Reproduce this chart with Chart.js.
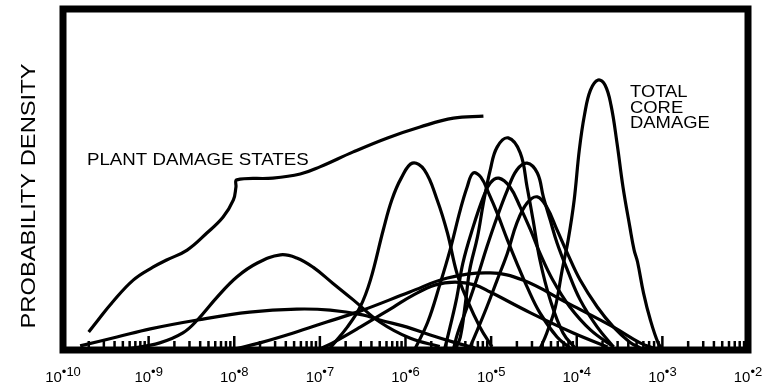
<!DOCTYPE html>
<html>
<head>
<meta charset="utf-8">
<script src="https://cdn.jsdelivr.net/npm/chart.js@4.4.1/dist/chart.umd.min.js"></script>
<style>
  html, body { margin: 0; padding: 0; background: #fff; }
  #wrap { width: 764px; height: 385px; position: relative; }
</style>
</head>
<body>
<div id="wrap"><canvas id="pdf"></canvas></div>
<script>
// x values are log10 of the frequency, y is relative probability density (0-100)
const decades = [-10, -9, -8, -7, -6, -5, -4, -3, -2];
const minorMantissas = [2, 3, 4, 5, 6, 7, 8, 9];

// "plant damage states" envelope line
const envelopeX = [-9.70, -9.59, -9.43, -9.18, -8.95, -8.79, -8.55, -8.32, -8.13, -8.01, -7.98, -7.97, -7.55, -7.23, -7.00, -6.61, -6.21, -5.83, -5.44, -5.09];
const envelopeY = [5.3, 8.8, 13.8, 20.5, 24.3, 26.4, 29.3, 34.3, 39.0, 44.0, 47.8, 49.9, 50.4, 51.6, 53.7, 58.1, 62.2, 65.4, 68.0, 68.6];

// individual damage state distributions
const stateAX = [-9.25, -8.87, -8.60, -8.43, -8.20, -7.97, -7.73, -7.46, -7.27, -7.08, -6.85, -6.61, -6.30, -5.95, -5.60];
const stateAY = [0.3, 2.1, 5.0, 8.8, 15.5, 21.4, 25.5, 27.9, 27.0, 24.3, 19.6, 14.7, 8.2, 3.5, 1.0];

const stateBX = [-9.80, -9.37, -8.98, -8.43, -7.82, -7.27, -6.88, -6.50, -6.30, -5.98, -5.71, -5.44, -5.19];
const stateBY = [1.2, 3.8, 6.2, 8.8, 11.1, 12.0, 11.7, 10.3, 8.8, 6.7, 4.4, 2.3, 0.6];

const stateCX = [-6.88, -6.68, -6.53, -6.41, -6.26, -6.16, -6.05, -5.92, -5.78, -5.63, -5.51, -5.40, -5.28, -5.13, -4.99];
const stateCY = [0.6, 6.7, 12.6, 20.5, 35.2, 44.0, 50.4, 54.8, 52.8, 44.0, 34.3, 22.6, 14.7, 6.7, 0.9];

const stateDX = [-5.89, -5.74, -5.60, -5.48, -5.36, -5.28, -5.21, -5.12, -5.02, -4.93, -4.81, -4.70, -4.58, -4.43, -4.23, -4.08];
const stateDY = [0.3, 8.2, 19.1, 29.3, 41.1, 47.8, 51.9, 50.7, 45.5, 40.2, 32.3, 25.5, 18.5, 10.9, 3.8, 0.6];

const stateEX = [-5.42, -5.36, -5.30, -5.25, -5.16, -5.09, -5.01, -4.93, -4.80, -4.66, -4.58, -4.51, -4.43, -4.31, -4.16, -4.02];
const stateEY = [0.3, 3.8, 13.8, 23.5, 33.1, 43.1, 52.8, 59.5, 62.2, 57.8, 47.8, 38.1, 26.4, 14.7, 5.0, 0.6];

const stateFX = [-5.54, -5.48, -5.40, -5.33, -5.21, -5.09, -5.01, -4.91, -4.78, -4.66, -4.54, -4.43, -4.28, -4.08, -3.84, -3.57];
const stateFY = [0.6, 6.7, 15.5, 25.5, 36.1, 44.9, 49.0, 50.4, 47.8, 41.9, 35.2, 28.4, 20.5, 12.6, 5.9, 0.9];

const stateGX = [-5.44, -5.39, -5.28, -5.16, -5.05, -4.93, -4.81, -4.70, -4.58, -4.46, -4.39, -4.31, -4.23, -4.11, -3.96, -3.76, -3.57];
const stateGY = [0.3, 5.0, 12.6, 21.4, 30.2, 39.0, 46.9, 52.8, 54.8, 51.9, 44.9, 38.1, 31.4, 23.5, 14.7, 6.7, 0.9];

const stateHX = [-5.25, -5.16, -5.05, -4.93, -4.81, -4.70, -4.58, -4.46, -4.35, -4.23, -4.11, -3.96, -3.76, -3.57, -3.38, -3.26];
const stateHY = [0.6, 5.9, 12.6, 20.5, 28.4, 37.2, 43.1, 44.9, 41.9, 35.2, 28.4, 20.5, 12.6, 6.7, 2.3, 0.6];

const stateIX = [-7.99, -7.70, -7.31, -6.92, -6.53, -5.95, -5.51, -5.01, -4.63, -4.11, -3.57, -3.26, -3.08];
const stateIY = [0.3, 2.1, 5.0, 8.2, 11.4, 17.0, 21.1, 22.6, 20.5, 13.8, 6.7, 2.1, 0.3];

const stateJX = [-7.00, -6.85, -6.53, -6.14, -5.91, -5.65, -5.42, -5.19, -5.01, -4.54, -4.04, -3.64];
const stateJY = [0.3, 2.1, 6.7, 12.6, 16.1, 19.1, 19.9, 19.1, 17.0, 10.9, 5.0, 0.9];

// total core damage
const totalCoreX = [-4.43, -4.35, -4.25, -4.17, -4.10, -4.03, -3.97, -3.91, -3.84, -3.75, -3.67, -3.60, -3.53, -3.46, -3.38, -3.33, -3.29, -3.22, -3.14, -3.05, -3.00];
const totalCoreY = [0.3, 5.0, 12.6, 23.5, 32.3, 44.0, 58.7, 68.9, 76.2, 79.2, 77.7, 71.8, 60.7, 47.8, 36.1, 29.3, 25.8, 16.7, 8.8, 2.1, 0.3];

const curves = [
  [envelopeX, envelopeY],
  [stateAX, stateAY], [stateBX, stateBY], [stateCX, stateCY], [stateDX, stateDY],
  [stateEX, stateEY], [stateFX, stateFY], [stateGX, stateGY], [stateHX, stateHY],
  [stateIX, stateIY], [stateJX, stateJY],
  [totalCoreX, totalCoreY]
];

const FONT = '"Liberation Sans", Arial, Helvetica, sans-serif';

function stretchText(ctx, text, x, y, size, sx, align) {
  ctx.save();
  ctx.font = size + 'px ' + FONT;
  ctx.translate(x, y);
  ctx.scale(sx, 1);
  ctx.textAlign = align || 'left';
  ctx.fillText(text, 0, 0);
  ctx.restore();
}

const decor = {
  id: 'decor',
  afterDatasetsDraw(chart) {
    const ctx = chart.ctx;
    const a = chart.chartArea;
    const xs = chart.scales.x;
    ctx.save();
    ctx.strokeStyle = '#000';
    ctx.fillStyle = '#000';

    // little ticks standing on the bottom edge
    ctx.lineWidth = 2.5;
    ctx.beginPath();
    decades.forEach(n => {
      const px = xs.getPixelForValue(10 ** n);
      ctx.moveTo(px, a.bottom);
      ctx.lineTo(px, a.bottom - 14);
      if (n < -2) {
        minorMantissas.forEach(m => {
          const p = xs.getPixelForValue(m * 10 ** n);
          ctx.moveTo(p, a.bottom);
          ctx.lineTo(p, a.bottom - 9);
        });
      }
    });
    ctx.stroke();

    // heavy frame
    ctx.lineWidth = 7;
    ctx.strokeRect(a.left, a.top, a.right - a.left, a.bottom - a.top);

    // decade labels 10^n
    ctx.textBaseline = 'alphabetic';
    decades.forEach(n => {
      const px = xs.getPixelForValue(10 ** n);
      const sup = '\u2022' + Math.abs(n);
      ctx.font = '15px ' + FONT;
      const w1 = ctx.measureText('10').width;
      ctx.font = '13px ' + FONT;
      const w2 = ctx.measureText(sup).width;
      const start = px - (w1 + w2) / 2;
      ctx.font = '15px ' + FONT;
      ctx.textAlign = 'left';
      ctx.fillText('10', start, 382);
      ctx.font = '13px ' + FONT;
      ctx.fillText(sup, start + w1, 376);
    });

    // axis title
    ctx.save();
    ctx.translate(35, 196);
    ctx.rotate(-Math.PI / 2);
    stretchText(ctx, 'PROBABILITY DENSITY', 0, 0, 21, 1.13, 'center');
    ctx.restore();

    // annotations
    stretchText(ctx, 'PLANT DAMAGE STATES', 87, 165, 17, 1.1);
    stretchText(ctx, 'TOTAL', 630, 97, 16, 1.15);
    stretchText(ctx, 'CORE', 630, 113, 16, 1.15);
    stretchText(ctx, 'DAMAGE', 630, 128, 16, 1.15);
    ctx.restore();
  }
};

new Chart(document.getElementById('pdf'), {
  type: 'line',
  data: {
    datasets: curves.map(([cx, cy]) => ({
      data: cx.map((e, i) => ({ x: 10 ** e, y: cy[i] })),
      borderColor: '#000',
      borderWidth: 3.2,
      pointRadius: 0,
      fill: false,
      tension: 0.4
    }))
  },
  options: {
    responsive: true,
    maintainAspectRatio: false,
    animation: false,
    layout: { padding: { left: 63, right: 16, top: 9, bottom: 35 } },
    plugins: { legend: { display: false }, tooltip: { enabled: false } },
    scales: {
      x: { type: 'logarithmic', min: 1e-10, max: 1e-2, display: false },
      y: { type: 'linear', min: 0, max: 100, display: false }
    }
  },
  plugins: [decor]
});
</script>
</body>
</html>
